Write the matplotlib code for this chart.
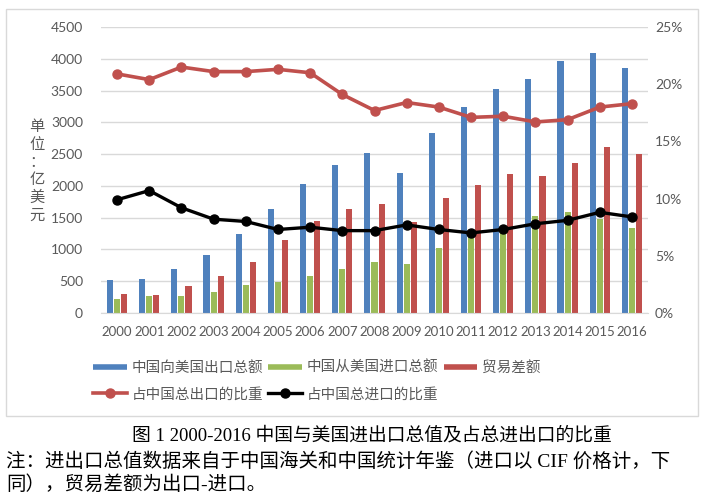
import matplotlib.pyplot as plt
from matplotlib.lines import Line2D
from matplotlib.patches import Rectangle
import numpy as np

years = [str(y) for y in range(2000, 2017)]
exports = [515, 541, 694, 920, 1246, 1630, 2034, 2329, 2518, 2203,
           2828, 3244, 3517, 3680, 3959, 4090, 3848]
imports = [221, 263, 268, 336, 442, 489, 589, 694, 810, 768,
           1020, 1225, 1330, 1525, 1590, 1475, 1341]
balance = [294, 279, 426, 584, 799, 1141, 1440, 1635, 1709, 1425,
           1808, 2019, 2187, 2155, 2366, 2613, 2502]
exp_share = [20.9, 20.4, 21.5, 21.1, 21.1, 21.3, 21.0, 19.1, 17.7, 18.4,
             18.0, 17.1, 17.2, 16.7, 16.9, 18.0, 18.3]
imp_share = [9.9, 10.7, 9.2, 8.2, 8.0, 7.3, 7.5, 7.2, 7.2, 7.7,
             7.3, 7.0, 7.3, 7.8, 8.1, 8.8, 8.4]

names = ["中国向美国出口总额", "中国从美国进口总额", "贸易差额",
         "占中国总出口的比重", "占中国总进口的比重"]
c_blue, c_green, c_red = "#4f81bd", "#9bbb59", "#c0504d"
grey = "#595959"
cjk = ["Noto Sans CJK SC"]
num = ["Lato", "Noto Sans CJK SC"]
serif = ["Liberation Serif", "Noto Sans CJK SC"]

fig = plt.figure(figsize=(7.07, 5.01), dpi=100)
fig.patches.append(Rectangle((6 / 707, 1 - 416 / 501), 692 / 707, 407 / 501,
                             transform=fig.transFigure, fill=False,
                             edgecolor="#d9d9d9", lw=1))
ax = fig.add_axes([101 / 707, 1 - 313 / 501, 547 / 707, 286 / 501])
x = np.arange(len(years))
w = 0.19
ax.bar(x - 0.22, exports, w, color=c_blue)
ax.bar(x, imports, w, color=c_green)
ax.bar(x + 0.22, balance, w, color=c_red)
ax.set_xlim(-0.5, len(years) - 0.5)
ax.set_ylim(0, 4500)
ax.set_yticks(range(0, 4501, 500))
ax.set_xticks(x)
ax.set_xticklabels(years, family=num, fontsize=9.5, color=grey)
for t in ax.get_yticklabels():
    t.set_family(num); t.set_fontsize(10); t.set_color(grey)
ax.tick_params(length=0)
ax.tick_params(axis="y", pad=13)
ax.tick_params(axis="x", pad=9)
ax.grid(axis="y", color="#d9d9d9", lw=1)
ax.set_axisbelow(True)
for s in ["top", "left", "right"]:
    ax.spines[s].set_visible(False)
ax.spines["bottom"].set_color("#d9d9d9")

ax2 = ax.twinx()
ax2.plot(x, exp_share, color=c_red, lw=2.6, marker="o", ms=6.5)
ax2.plot(x, imp_share, color="black", lw=2.4, marker="o", ms=6.5)
ax2.set_ylim(0, 25)
ax2.set_yticks(range(0, 26, 5))
ax2.set_yticklabels([f"{v}%" for v in range(0, 26, 5)], family=num,
                    fontsize=10, color=grey)
ax2.tick_params(length=0, pad=5)
for s in ax2.spines.values():
    s.set_visible(False)

fig.text(37 / 707, 1 - 171 / 501, "\n".join("单位：亿美元"), family=cjk,
         fontsize=11, color=grey, ha="center", va="center", linespacing=1.05,
         weight="light")

handles = [Line2D([], [], color=c_blue, lw=4, solid_capstyle="butt"),
           Line2D([], [], color=c_red, lw=2.6, marker="o", ms=6.5),
           Line2D([], [], color=c_green, lw=4, solid_capstyle="butt"),
           Line2D([], [], color="black", lw=2.4, marker="o", ms=6.5),
           Line2D([], [], color=c_red, lw=4, solid_capstyle="butt")]
labels = [names[0], names[3], names[1], names[4], names[2]]
leg = fig.legend(handles, labels, ncol=3, loc="upper left",
                 bbox_to_anchor=(93 / 707, 1 - 361 / 501), frameon=False,
                 borderpad=0, borderaxespad=0, handlelength=2.3,
                 handletextpad=0.35, columnspacing=0.35, labelspacing=0.85,
                 prop={"family": cjk, "size": 10.5, "weight": "light"})
for t in leg.get_texts():
    t.set_color(grey)

fig.text(372 / 707, 1 - 436 / 501,
         "图 1 2000-2016 中国与美国进出口总值及占总进出口的比重",
         family=serif, fontsize=13.5, ha="center", va="center")
fig.text(6 / 707, 1 - 461 / 501,
         "注：进出口总值数据来自于中国海关和中国统计年鉴（进口以 CIF 价格计，下",
         family=serif, fontsize=14, ha="left", va="center")
fig.text(6 / 707, 1 - 485 / 501, "同），贸易差额为出口-进口。",
         family=serif, fontsize=14, ha="left", va="center")

fig.savefig("out.png", dpi=100)
